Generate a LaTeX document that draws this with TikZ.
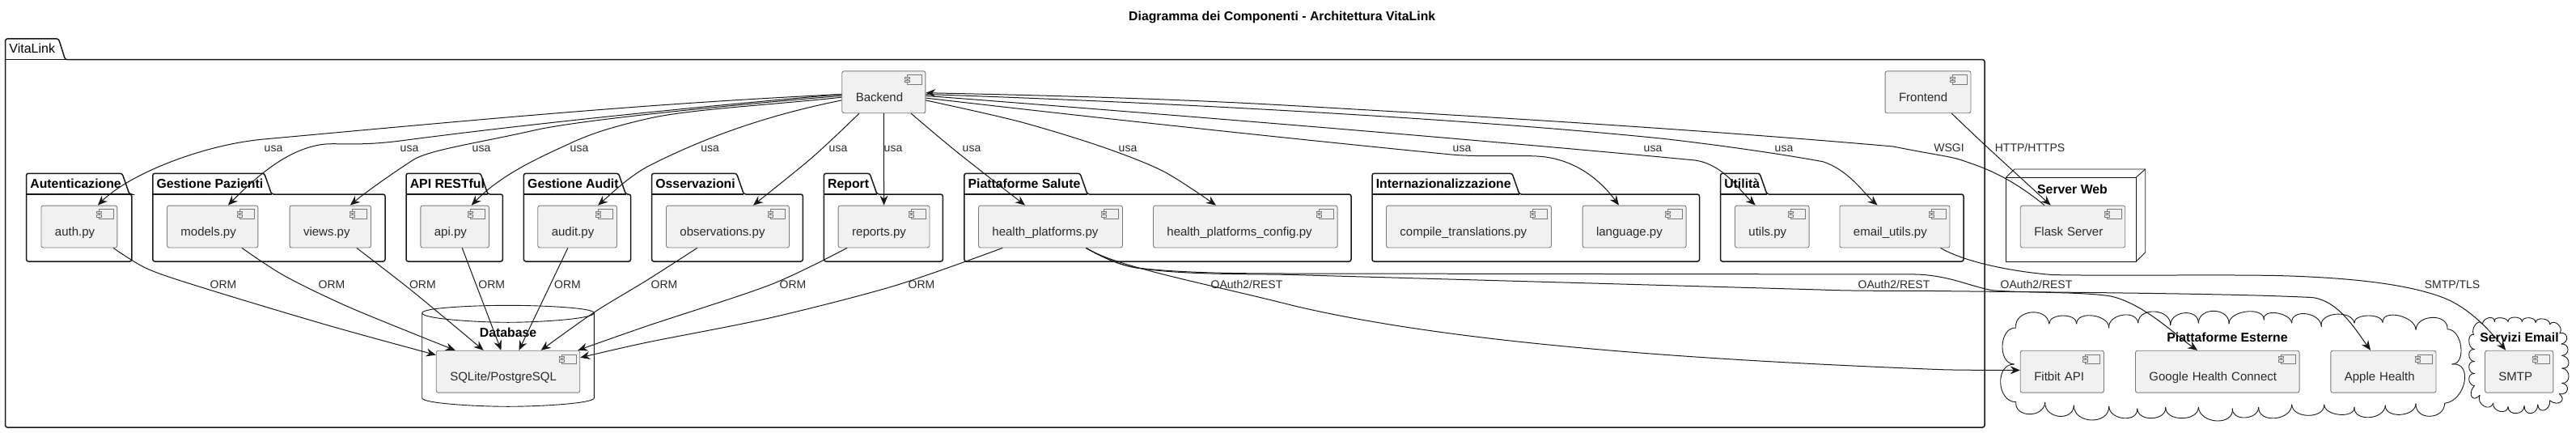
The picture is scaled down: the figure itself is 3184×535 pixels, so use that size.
\documentclass[tikz,border=0pt]{standalone}
\usepackage{fontspec}
\setmainfont{Liberation Sans}
\usetikzlibrary{arrows.meta,calc}
\definecolor{ink}{HTML}{181818}
\definecolor{txt}{HTML}{2A2A2A}
\definecolor{compfill}{HTML}{F1F1F1}
\definecolor{compline}{HTML}{7A7A7A}
\tikzset{
  compbox/.style={draw=compline,fill=compfill,line width=0.9pt,rounded corners=2.5pt,inner ysep=0pt,inner xsep=17pt,
     minimum height=51.9pt,text height=24pt,text depth=0.8pt,align=left,anchor=north west,text=txt,
     font=\fontsize{15}{17}\selectfont},
  iconline/.style={draw=compline,fill=compfill,line width=1pt},
  pkgline/.style={draw=ink,line width=1.5pt,rounded corners=2.5pt},
  thinline/.style={draw=ink,line width=0.9pt},
  ttl/.style={font=\fontsize{15.8}{18}\selectfont\bfseries,text=black,inner sep=0pt,anchor=base},
  pkgttl/.style={ttl,anchor=base west},
  lbl/.style={font=\fontsize{14}{16}\selectfont,text=txt,inner sep=0pt,anchor=base},
  edge/.style={draw=ink,line width=1pt,-{Stealth[length=12pt,width=10pt,inset=4pt]}},
}
\newcommand\comp[5]{%
  \node[compbox,minimum width={(#4-#2)*1pt},text width={(#4-#2-34)*1pt}] (#1) at (#2,#3) {#5};
  \draw[iconline] ($(#1.north east)+(-23,5.3)$) rectangle +(18,11.3);
  \draw[iconline] ($(#1.north east)+(-26,7.6)$) rectangle +(6,2.4);
  \draw[iconline] ($(#1.north east)+(-26,12)$) rectangle +(6,2.4);
}
% name, x1, x2, tab right, tab top, body top, bottom, title
\newcommand\pkg[8]{%
  \draw[pkgline] (#2,#6) -- (#2,#5) -- (#4-9,#5) -- (#4,#6) -- (#3,#6) -- (#3,#7) -- (#2,#7) -- cycle;
  \draw[draw=ink,line width=1.5pt] (#2,#6) -- (#4,#6);
  \node[pkgttl] (#1) at (#2+4.6,#6-8) {#8};
}
\newcommand\bumps[3]{%
  \foreach \px/\py/\bx/\by [remember=\bx as \ax (initially #1),remember=\by as \ay (initially #2)] in {#3}{
    \pgfmathsetmacro\cax{\ax+1.3333*(\px-(\ax+\bx)/2)}
    \pgfmathsetmacro\cay{\ay+1.3333*(\py-(\ay+\by)/2)}
    \pgfmathsetmacro\cbx{\bx+1.3333*(\px-(\ax+\bx)/2)}
    \pgfmathsetmacro\cby{\by+1.3333*(\py-(\ay+\by)/2)}
    \draw[draw=ink,line width=0.9pt,line cap=round] (\ax,\ay) .. controls (\cax,\cay) and (\cbx,\cby) .. (\bx,\by);
  }%
}
\newcommand\lbl[4]{\node[lbl] (#1) at (#2,#3) {#4};}
\begin{document}
\begin{tikzpicture}[x=1pt,y=-1pt]
\useasboundingbox (0,0) rectangle (3184,535);
\node[ttl] (title) at (1584.7,26) {Diagramma dei Componenti - Architettura VitaLink};

% packages
\draw[pkgline] (6.6,73.7) -- (6.6,48) -- (72.5,48) -- (80.6,73.7) -- (2453,73.7) -- (2453,528) -- (6.6,528) -- cycle;
\draw[draw=ink,line width=1.5pt] (6.6,73.7) -- (80.6,73.7);
\node[pkgttl,font=\fontsize{16}{18}\selectfont] (vitalink) at (11.2,65.5) {VitaLink};

\pkg{pAuth}{32.6}{162.8}{160}{214.3}{240}{323}{Autenticazione}
\pkg{pPaz}{188.8}{476}{335.7}{214.3}{240}{323}{Gestione Pazienti}
\pkg{pApi}{502}{621.4}{603}{214.3}{240}{323}{API RESTful}
\pkg{pAudit}{647.4}{779.6}{773.5}{214.3}{240}{323}{Gestione Audit}
\pkg{pObs}{805.6}{992.3}{919.4}{214.3}{240}{323}{Osservazioni}
\pkg{pRep}{1018.4}{1165.3}{1084}{214.3}{240}{323}{Report}
\pkg{pHealth}{1191.8}{1670}{1344}{214.3}{240}{323}{Piattaforme Salute}
\pkg{pInt}{1696}{2100.5}{1878}{214.3}{240}{323}{Internazionalizzazione}
\pkg{pUtil}{2126.5}{2427}{2184}{214.3}{240}{323}{Utilità}

% server web node
\draw[thinline,line join=round] (2479.3,219.3) rectangle (2640,323.3);
\draw[thinline,line join=round] (2479.3,219.3) -- (2490,209) -- (2651.7,209) -- (2651.7,311.7) -- (2640,323.3);
\draw[thinline] (2640,219.3) -- (2651.7,209);
\node[ttl] (sWeb) at (2561.5,239) {Server Web};

% database
\draw[thinline] (521.7,386.7) .. controls (521.7,380) and (590,377.3) .. (628,377.3) .. controls (666,377.3) and (734.3,380) .. (734.3,386.7)
  .. controls (734.3,394) and (666,398.3) .. (628,398.3) .. controls (590,398.3) and (521.7,394) .. (521.7,386.7);
\draw[thinline] (521.7,386.7) -- (521.7,491.7) .. controls (521.7,498.5) and (590,502.3) .. (628,502.3) .. controls (666,502.3) and (734.3,498.5) .. (734.3,491.7) -- (734.3,386.7);
\node[ttl] (sDb) at (628,416.7) {Database};

% clouds
\bumps{2491.7}{405}{2510/386/2532.7/400,2550/390/2566.7/400,2586.7/390/2606.7/405,2623.3/389.3/2642.7/399,2663.3/385/2682.7/401.7,2700/386.7/2717.3/399,2736.7/384.3/2755/400,2776.7/385/2798.3/395,2813.3/386.7/2832.7/399,2850/387.7/2869.3/403.3,2886.7/388.3/2910/399,2926.7/390/2945/398.3,2965/390/2986/407.3,3006.7/392.3/3025/406.7,3041.7/428.3/3030.7/450,3046/471.7/3021.7/498.3,3003.3/514.3/2986/499,2966.7/512.3/2948.3/501,2928.3/515.7/2910/503.3,2891.7/512.3/2872.7/500,2853.3/513.3/2832.7/500,2811.7/516.7/2791.7/503.3,2775/516/2759.3/505,2740/520/2717.3/503.3,2696.7/516.7/2676.7/503.3,2660/516.7/2641.7/505,2625/516.7/2606.7/502.3,2585/519/2563.3/501,2545/514.3/2527.7/497.3,2508.3/511.7/2491.7/496.7,2472.7/473.3/2489.3/450,2475/426.7/2491.7/405}
\node[ttl] (sExt) at (2753,422.7) {Piattaforme Esterne};
\begin{scope}[shift={(3040,380)},x=0.33333pt,y=-0.33333pt]
\bumps{52}{100}{60/62/85/62,108/38/130/52,150/38/180/52,205/36/232/52,258/38/282/55,310/42/335/62,365/62/372/95,398/110/378/135,402/155/380/178,405/205/380/225,405/255/380/280,400/305/370/320,375/350/335/345,315/380/290/360,265/392/240/365,210/392/180/368,150/385/125/355,90/365/75/325,45/330/55/290,35/265/55/245,35/220/55/200,35/175/55/155,35/125/52/100}
\end{scope}
\node[ttl] (sMail) at (3114,422.3) {Servizi Email};

% components
\comp{backend}{1040.3}{87.4}{1143.4}{Backend}
\comp{frontend}{2329.6}{87.4}{2435.5}{Frontend}
\comp{auth}{50.5}{253.6}{144.4}{auth.py}
\comp{models}{206}{253.6}{318.4}{models.py}
\comp{views}{357.6}{253.6}{458}{views.py}
\comp{api}{519.4}{253.6}{604}{api.py}
\comp{audit}{664.3}{253.6}{762}{audit.py}
\comp{obs}{823}{253.6}{975}{observations.py}
\comp{reports}{1035.7}{253.6}{1148.5}{reports.py}
\comp{health}{1209}{253.6}{1387}{health\_platforms.py}
\comp{config}{1425}{253.6}{1652.6}{health\_platforms\_config.py}
\comp{compile}{1713}{253.6}{1917}{compile\_translations.py}
\comp{language}{1955.6}{253.6}{2083.7}{language.py}
\comp{utils}{2144}{253.6}{2235.7}{utils.py}
\comp{email}{2273.5}{253.6}{2409.5}{email\_utils.py}
\comp{flask}{2496.8}{253.6}{2626.3}{Flask Server}
\comp{sql}{538.8}{432.8}{716.3}{SQLite/PostgreSQL}
\comp{fitbit}{2496.8}{432.8}{2600}{Fitbit API}
\comp{google}{2639}{432.8}{2841.6}{Google Health Connect}
\comp{apple}{2880.4}{432.8}{3010.5}{Apple Health}
\comp{smtp}{3071}{432.8}{3155.4}{SMTP}

% usa edges
\draw[edge] (backend.183) .. controls (800,128) and (600,147) .. (326,172) .. controls (250,179) and (160,215) .. (auth.49);
\draw[edge] (backend.183.6) .. controls (800,137) and (600,160) .. (495,174) .. controls (440,181) and (415,176) .. (398,178.5) .. controls (360,184) and (325,210) .. (models.54.7);
\draw[edge] (backend.185.2) .. controls (900,130) and (720,148) .. (663,160.4) .. controls (590,177) and (530,185) .. (510,198) .. controls (490,211) and (455,235) .. (views.47.5);
\draw[edge] (backend.187.4) .. controls (950,130) and (850,135) .. (800,146.8) .. controls (760,156) and (730,165) .. (704,177.5) .. controls (670,193) and (620,215) .. (api.52);
\draw[edge] (backend.191.7) .. controls (960,140) and (880,165) .. (800,206) .. controls (775,220) and (755,240) .. (audit.46.5);
\draw[edge] plot[smooth,tension=0.5] coordinates {(backend.221) (1004,194.5) (obs.40.9)};
\draw[edge] (backend.270) -- (reports.90);
\draw[edge] plot[smooth,tension=0.5] coordinates {(backend.-38.9) (1182.7,187.7) (health.140.2)};
\draw[edge] plot[smooth,tension=0.5] coordinates {(backend.-11.7) (1259,150) (1361,181) (1437.8,211.6) (config.144.1)};
\draw[edge] (backend.-8.5) .. controls (1350,145) and (1600,172) .. (1794,191) .. controls (1830,194.5) and (1880,191) .. (1906,193.5) .. controls (1950,198) and (1980,225) .. (language.126.4);
\draw[edge] (backend.-5.2) .. controls (1400,138) and (1800,170) .. (2095,198) .. controls (2130,203) and (2150,235) .. (utils.128.8);
\draw[edge] (backend.-3.6) .. controls (1400,125) and (1800,145) .. (2059,171.7) .. controls (2130,180) and (2200,190) .. (2253,199.7) .. controls (2285,210) and (2305,240) .. (email.129.1);
\draw[edge] (flask.143.3) .. controls (2480,215) and (2445,205) .. (2425,198) .. controls (2410,193) and (2395,192) .. (2340,181) .. controls (2100,160) and (1850,145) .. (1600,130.7) .. controls (1450,122) and (1300,118) .. (backend.-1.9);
\draw[edge] plot[smooth,tension=0.5] coordinates {(frontend.-42.8) (2455.4,181) (flask.136.1)};
% ORM edges
\draw[edge] plot[smooth,tension=0.5] coordinates {(auth.-32.7) (183.7,332.8) (260,358.4) (408,402.7) (sql.167.3)};
\draw[edge] plot[smooth,tension=0.5] coordinates {(models.-36.7) (352,341) (433.7,380.5) (sql.158.8)};
\draw[edge] plot[smooth,tension=0.5] coordinates {(views.-39.9) (510,360) (sql.139.9)};
\draw[edge] (api.-71.5) -- (sql.108.4);
\draw[edge] (audit.-114.2) -- (sql.63.7);
\draw[edge] plot[smooth,tension=0.5] coordinates {(obs.-145.7) (800,346) (734.7,385.7) (sql.33.3)};
\draw[edge] plot[smooth,tension=0.5] coordinates {(reports.-150.4) (953,351.5) (800,402.7) (sql.17)};
\draw[edge] plot[smooth,tension=0.5] coordinates {(health.-156.7) (1106,353) (953,392.5) (800,423) (sql.11.8)};
% OAuth edges
\draw[edge] (health.-31.2) .. controls (1380,330) and (1490,350) .. (1600,378) .. controls (1800,425) and (2100,445) .. (2400,456.7) .. controls (2430,457.5) and (2470,457.3) .. (fitbit.178.6);
\draw[edge] (health.-31.2) .. controls (1375,325) and (1395,330) .. (1412,331.7) .. controls (1470,338) and (1550,338) .. (1600,338) -- (2370,339) .. controls (2410,341) and (2430,352) .. (2460.5,358.4) .. controls (2490,362) and (2570,360) .. (2608.5,365.9) .. controls (2650,375) and (2690,415) .. (google.133.8);
\draw[edge] (health.-31.2) .. controls (1375,325) and (1395,330) .. (1412,332) .. controls (1470,340) and (1540,338) .. (1600,339.6) -- (2250,358) .. controls (2275,359) and (2300,359.4) .. (2384,359.4) .. controls (2500,361) and (2750,362) .. (2858.5,367.6) .. controls (2890,372) and (2910,405) .. (apple.121);
% SMTP
\draw[edge] (email.-25.1) .. controls (2425,322) and (2480,335) .. (2537,339.6) .. controls (2620,341) and (2740,339) .. (2817.7,340.6) .. controls (2900,343) and (2975,350) .. (3022,368.6) .. controls (3050,380) and (3075,405) .. (smtp.122.6);

% labels
\lbl{u1}{338}{187.7}{usa}
\lbl{u2}{506}{187.7}{usa}
\lbl{u3}{595}{187.7}{usa}
\lbl{u4}{716}{187.7}{usa}
\lbl{u5}{877.6}{187.7}{usa}
\lbl{u6}{1036}{187.7}{usa}
\lbl{u7}{1104}{187.7}{usa}
\lbl{u8}{1201}{187.7}{usa}
\lbl{u9}{1394}{187.7}{usa}
\lbl{u10}{1807}{187.7}{usa}
\lbl{u11}{2043}{187.7}{usa}
\lbl{u12}{2205}{187.7}{usa}
\lbl{wsgi}{2409}{187.7}{WSGI}
\lbl{http}{2509}{187.7}{HTTP/HTTPS}
\lbl{o1}{276}{356}{ORM}
\lbl{o2}{410}{356}{ORM}
\lbl{o3}{522.4}{356}{ORM}
\lbl{o4}{607.7}{356}{ORM}
\lbl{o5}{701.5}{356}{ORM}
\lbl{o6}{821}{356}{ORM}
\lbl{o7}{980}{356}{ORM}
\lbl{o8}{1139}{356}{ORM}
\lbl{a1}{1541}{356}{OAuth2/REST}
\lbl{a2}{2341}{356}{OAuth2/REST}
\lbl{a3}{2517}{356}{OAuth2/REST}
\lbl{smtpl}{3031}{356}{SMTP/TLS}
\end{tikzpicture}
\end{document}
